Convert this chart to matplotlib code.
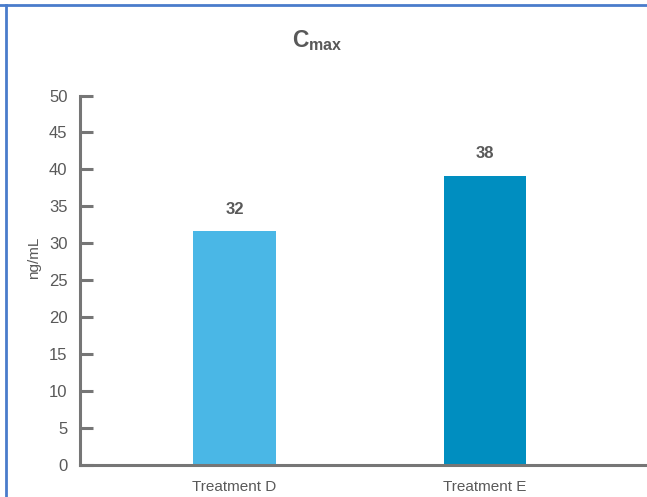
import matplotlib
matplotlib.use("Agg")
import matplotlib.pyplot as plt
from matplotlib.lines import Line2D

# data
treatments = ["Treatment D", "Treatment E"]
cmax = [31.6, 39.1]
cmax_labels = ["32", "38"]
bar_colors = ["#4AB7E6", "#008EC0"]
yticks = [0, 5, 10, 15, 20, 25, 30, 35, 40, 45, 50]

plt.rcParams['font.family'] = ['Liberation Sans', 'DejaVu Sans']
plt.rcParams['mathtext.fontset'] = 'custom'
plt.rcParams['mathtext.bf'] = 'Liberation Sans:bold'
plt.rcParams['mathtext.rm'] = 'Liberation Sans'

grey = "#595959"
axgrey = "#767676"

fig = plt.figure(figsize=(6.47, 4.97), dpi=100)
ax = fig.add_axes([0.1236, 0.0644, 0.8764, 0.7434])

x = list(range(len(treatments)))
ax.bar(x, cmax, width=0.33, color=bar_colors, zorder=2)
for i in x:
    ax.text(i, cmax[i] + 2.0, cmax_labels[i], ha="center", va="bottom",
            fontsize=12, fontweight="bold", color=grey)

ax.set_xlim(-0.617, 1.647)
ax.set_ylim(0, 50)
ax.set_yticks(yticks)
ax.set_xticks(x)
ax.set_xticklabels(treatments)

for s in ["top", "right"]:
    ax.spines[s].set_visible(False)
for s in ["left", "bottom"]:
    ax.spines[s].set_color(axgrey)
    ax.spines[s].set_linewidth(2.2)

ax.tick_params(axis="y", direction="in", length=9, width=2.2, color=axgrey,
               labelsize=12, labelcolor=grey, pad=9)
ax.tick_params(axis="x", length=0, labelsize=11, labelcolor=grey, pad=11)
ax.set_ylabel("ng/mL", fontsize=11, color=grey)
ax.yaxis.set_label_coords(-0.068, 0.56)

fig.text(0.491, 0.918, r"$\mathbf{C}_{\mathbf{max}}$", ha="center", va="center",
         fontsize=16.5, color=grey)

# blue frame round the picture (top and left edges)
fig.add_artist(Line2D([0.0, 1.0], [0.9895, 0.9895], transform=fig.transFigure,
                      color="#4A7CCB", linewidth=2))
fig.add_artist(Line2D([0.0098, 0.0098], [0.0, 0.99], transform=fig.transFigure,
                      color="#4A7CCB", linewidth=2))

plt.savefig("out.png", dpi=100)
